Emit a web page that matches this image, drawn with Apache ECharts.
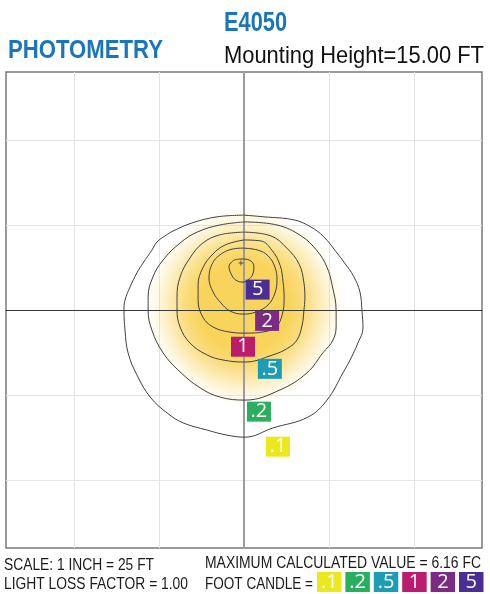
<!DOCTYPE html>
<html>
<head>
<meta charset="utf-8">
<script src="https://cdn.jsdelivr.net/npm/echarts@6/dist/echarts.min.js"></script>
<style>
  html, body { margin: 0; padding: 0; background: #fff; }
  #chart { width: 490px; height: 594px; }
</style>
</head>
<body>
<div id="chart"></div>
<script>
// plan view, feet from the pole (x right, y up)
const axisRange = [-70, 70];
const gridTicks = [-50, -25, 25, 50];

// iso-footcandle lines, in feet
const contour01 = [[0, 27.9], [5.9, 27.4], [14.7, 26.5], [19.7, 24.4], [23.5, 21.5], [27.1, 17.1], [29.6, 13.8], [32.2, 10], [34.1, 5.3], [34.7, -0.3], [35, -5.3], [33.5, -9.7], [31.5, -14.1], [29.1, -18.5], [24.4, -26.5], [18.8, -31.5], [8.5, -34.7], [0.3, -37.4], [-5, -36.8], [-10.9, -35.3], [-17.9, -33.2], [-22.6, -30.3], [-27.6, -25.6], [-31.5, -19.1], [-34.1, -12.6], [-35, -5.9], [-35.3, 0], [-35, 2.9], [-33.5, 6.8], [-31.5, 10.9], [-29.7, 13.8], [-27.1, 17.6], [-25.6, 20], [-23.2, 21.8], [-20.9, 23.2], [-15.3, 25.6], [-7.9, 27.4]];
const contour02 = [[0, 25.9], [9.7, 25], [16.8, 21.8], [21.5, 17.4], [24.4, 12.6], [25.9, 7.4], [27.1, -0.3], [27.1, -4.4], [26.2, -8.8], [23.2, -12.6], [18.5, -18.5], [10.6, -23.5], [0.3, -26.5], [-7.1, -25.6], [-12.9, -22.9], [-18.8, -18.2], [-23.8, -12.6], [-27.1, -5.9], [-28.2, 0], [-28.2, 3.8], [-26.8, 9.7], [-23.8, 14.7], [-18.8, 19.7], [-13.8, 22.9], [-7.1, 25]];
const contour05 = [[0, 22.9], [7.9, 21.8], [12.6, 18.2], [16.2, 13.5], [17.6, 8.2], [17.9, 3.5], [17.6, -0.3], [17.1, -4.4], [15.6, -8.8], [12.9, -11.2], [8.5, -13.2], [0.3, -15.3], [-6.2, -14.7], [-10.9, -13.2], [-15.9, -9.7], [-18.8, -5], [-19.7, 0], [-19.7, 3.8], [-18.8, 9.7], [-15.9, 15.3], [-12.1, 19.7], [-7.1, 22.1]];
const contour1 = [[0, 20.6], [5, 20.3], [8.2, 17.6], [10.6, 13.2], [11.5, 8.2], [11.8, 3.5], [11.2, -1.5], [9.4, -5], [5.3, -6.5], [0.3, -6.8], [-4.1, -6.5], [-9.1, -5], [-12.1, -2.1], [-13.5, 2.9], [-13.5, 7.4], [-12.1, 12.4], [-9.4, 16.2], [-5.6, 19.1]];
const contour2 = [[-0.3, 18.2], [4.1, 17.6], [7.1, 15.9], [9.1, 12.6], [9.7, 8.8], [9.1, 5], [7.1, 1.5], [3.5, -0.6], [-0.3, -1.2], [-4.1, -0.3], [-6.8, 2.1], [-9.1, 5.3], [-10.3, 9.4], [-9.4, 13.5], [-7.1, 16.2], [-3.5, 17.9]];
const contour5 = [[-2.9, 14.7], [-0.9, 15], [1.5, 14.7], [2.9, 12.9], [2.6, 10.6], [1.5, 9.1], [-0.3, 8.2], [-2.4, 8.8], [-3.8, 10.6], [-4.4, 12.9]];
const contours = [contour01, contour02, contour05, contour1, contour2, contour5];

const peakPoint = [-0.9, 13.8];
const glowCenter = [0.2, 1.0];
const glowRadius = 29;

// value tags sitting under each line
const labelText = ['5', '2', '1', '.5', '.2', '.1'];
const labelX = [4.0, 6.8, -0.3, 7.6, 4.4, 10.0];
const labelY = [6.0, -3.2, -10.8, -17.3, -29.9, -40.2];
const labelColors = ['#4b2e93', '#7c2b85', '#bc1c6d', '#1c9db5', '#2aaf5e', '#ede81e'];

const legendText = ['.1', '.2', '.5', '1', '2', '5'];
const legendColors = ['#ede81e', '#2aaf5e', '#1c9db5', '#bc1c6d', '#7c2b85', '#4b2e93'];

const chart = echarts.init(document.getElementById('chart'), null, { renderer: 'canvas' });

const measure = document.createElement('canvas').getContext('2d');
function textEl(text, font, left, midY, width, fill) {
  measure.font = font;
  const sx = width / measure.measureText(text).width;
  return {
    type: 'text', x: left, y: midY, scaleX: sx, z: 10,
    style: { text, font, fill, align: 'left', verticalAlign: 'middle' },
  };
}

const glowAlpha = [[0, 1], [0.46, 1], [0.6, 0.82], [0.74, 0.5], [0.87, 0.2], [1, 0]];
const glowStops = glowAlpha.map(([o, a]) => ({ offset: o, color: `rgba(249,212,92,${a})` }));

const graphics = [
  textEl('PHOTOMETRY', 'bold 25px "Liberation Sans"', 8, 51, 155, '#1b75bc'),
  textEl('E4050', 'bold 27px "Liberation Sans"', 224, 23.5, 63, '#1b75bc'),
  textEl('Mounting Height=15.00 FT', '24px "Liberation Sans"', 224, 56.5, 260, '#111'),
  textEl('SCALE: 1 INCH = 25 FT', '16.5px "Liberation Sans"', 4, 565, 150, '#1a1a1a'),
  textEl('LIGHT LOSS FACTOR = 1.00', '16.5px "Liberation Sans"', 4, 584, 184, '#1a1a1a'),
  textEl('MAXIMUM CALCULATED VALUE = 6.16 FC', '16.5px "Liberation Sans"', 205, 563, 276, '#1a1a1a'),
  textEl('FOOT CANDLE =', '16.5px "Liberation Sans"', 205, 584, 108, '#1a1a1a'),
];
legendText.forEach((t, i) => {
  const x = 317 + i * 28.4;
  graphics.push({ type: 'rect', shape: { x, y: 572, width: 24.5, height: 20 }, style: { fill: legendColors[i] }, z: 10 });
  graphics.push({
    type: 'text', x: x + 12.25, y: 582, z: 11,
    style: { text: t, font: '20px "Open Sans"', fill: '#fff', align: 'center', verticalAlign: 'middle' },
  });
});

const closed = (pts) => pts.concat([pts[0]]);

const option = {
  animation: false,
  grid: {
    left: 6, top: 72, width: 476, height: 476,
    show: true, borderColor: '#7a7a7a', borderWidth: 1.5, backgroundColor: '#fff',
  },
  xAxis: {
    type: 'value', min: axisRange[0], max: axisRange[1], z: 3,
    axisLine: { onZero: true, lineStyle: { color: '#3a3a3a', width: 1 } },
    axisTick: { show: false }, axisLabel: { show: false }, splitLine: { show: false },
  },
  yAxis: {
    type: 'value', min: axisRange[0], max: axisRange[1], z: 3,
    axisLine: { onZero: true, lineStyle: { color: '#9c9c9c', width: 2 } },
    axisTick: { show: false }, axisLabel: { show: false }, splitLine: { show: false },
  },
  graphic: graphics,
  series: [
    {
      type: 'line', data: [], z: 1, silent: true,
      markLine: {
        silent: true, symbol: 'none', z: 1, animation: false,
        label: { show: false },
        lineStyle: { color: '#e4e4e4', width: 1, type: 'solid' },
        data: gridTicks.map((v) => ({ xAxis: v })).concat(gridTicks.map((v) => ({ yAxis: v }))),
      },
    },
    {
      type: 'custom', z: 2, silent: true,
      encode: { x: 0, y: 1 },
      data: [[glowCenter[0], glowCenter[1], glowRadius]],
      renderItem: (params, api) => {
        const c = api.coord([api.value(0), api.value(1)]);
        const r = api.size([api.value(2), 0])[0];
        return {
          type: 'circle',
          shape: { cx: c[0], cy: c[1], r },
          style: { fill: new echarts.graphic.RadialGradient(c[0], c[1], r, glowStops, true) },
        };
      },
    },
    ...contours.map((c) => ({
      type: 'line', data: closed(c), smooth: 0.4, symbol: 'none', z: 4, silent: true,
      lineStyle: { color: '#404040', width: 1 },
    })),
    {
      type: 'scatter', z: 4, silent: true,
      data: [peakPoint],
      symbol: 'path://M4,0H6V4H10V6H6V10H4V6H0V4H4Z', symbolSize: 5,
      itemStyle: { color: '#555', opacity: 1 },
    },
    {
      type: 'scatter', z: 5, silent: true,
      symbol: 'rect', symbolSize: [24, 20],
      itemStyle: { opacity: 1 },
      data: labelText.map((t, i) => ({ value: [labelX[i], labelY[i]], name: t, itemStyle: { color: labelColors[i], opacity: 1 } })),
      label: {
        show: true, position: 'inside', formatter: (p) => p.name,
        color: '#fff', fontSize: 20, fontFamily: 'Open Sans',
      },
    },
  ],
};

chart.setOption(option);
</script>
</body>
</html>
